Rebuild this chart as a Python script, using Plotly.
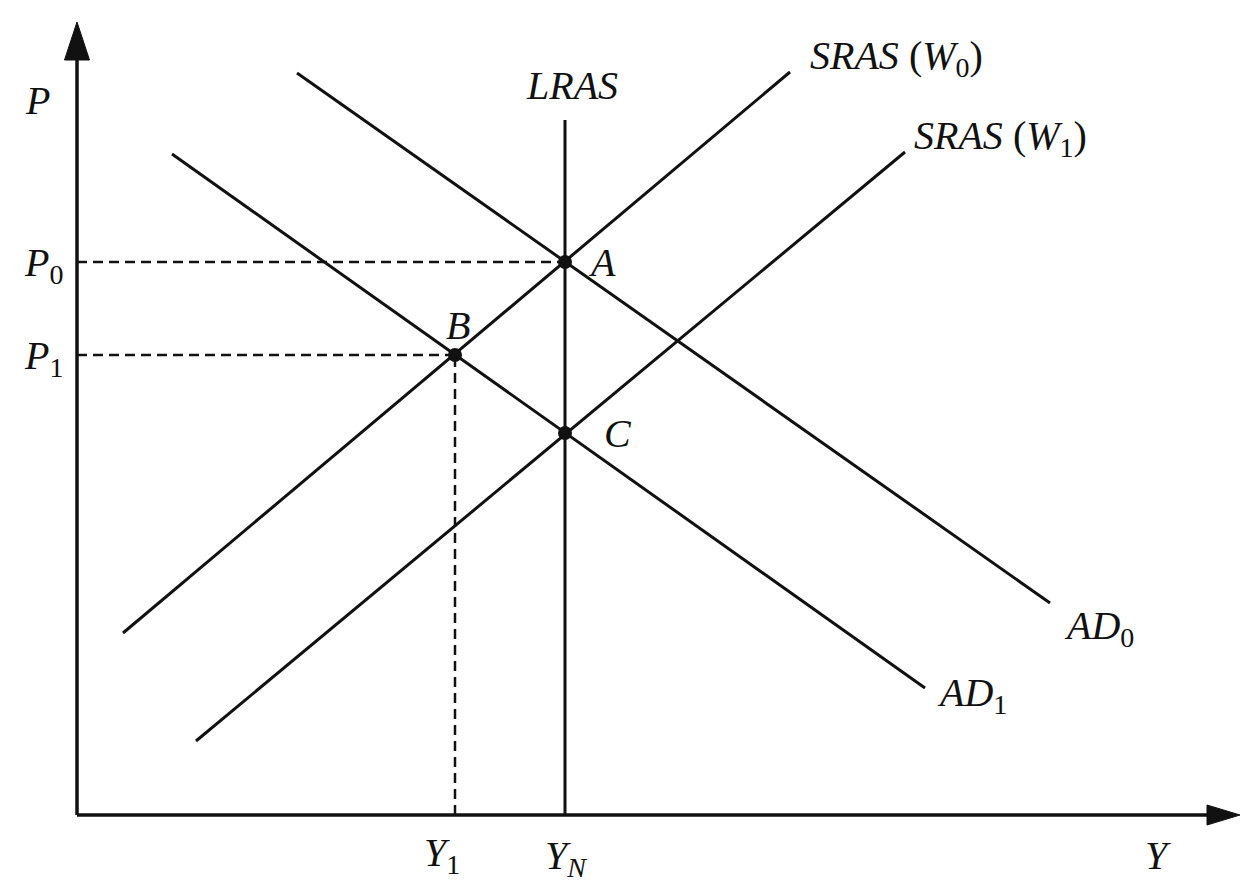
import plotly.graph_objects as go

# ---- data (model units: origin at the axes' corner) ----
ad0_x = [220, 973]
ad0_y = [742, 212]
ad1_x = [95, 848]
ad1_y = [661, 127]
sras0_x = [46, 713]
sras0_y = [182, 743]
sras1_x = [119, 828]
sras1_y = [74, 663]
lras_x = [488, 488]
lras_y = [0, 695]

eq_names = ["A", "B", "C"]
eq_x = [488, 378, 488]
eq_y = [553, 460, 382]

p0_level = 553
p1_level = 460
y1_level = 378
yn_level = 488

axis_y_top = 793
axis_x_right = 1163

BLACK = "#111111"
FONT = dict(family="Liberation Serif, Times New Roman, serif", size=40, color=BLACK)

fig = go.Figure()

def line(x, y, dash="solid", width=3):
    fig.add_trace(go.Scatter(x=x, y=y, mode="lines",
                             line=dict(color=BLACK, width=width, dash=dash),
                             hoverinfo="skip", showlegend=False))

# axes
line([0, 0], [0, axis_y_top - 35], width=3.5)
line([0, axis_x_right - 30], [0, 0], width=3.5)
fig.add_trace(go.Scatter(x=[-12.5, 0, 12.5, -12.5], y=[axis_y_top - 38, axis_y_top, axis_y_top - 38, axis_y_top - 38],
                         mode="lines", fill="toself", fillcolor=BLACK, line=dict(color=BLACK, width=1),
                         hoverinfo="skip", showlegend=False))
fig.add_trace(go.Scatter(x=[axis_x_right - 33, axis_x_right, axis_x_right - 33, axis_x_right - 33], y=[-10, 0, 10, -10],
                         mode="lines", fill="toself", fillcolor=BLACK, line=dict(color=BLACK, width=1),
                         hoverinfo="skip", showlegend=False))

# dashed guides
dash = "10px,6px"
line([0, eq_x[0]], [p0_level, p0_level], dash=dash, width=2.5)
line([0, eq_x[1]], [p1_level, p1_level], dash=dash, width=2.5)
line([y1_level, y1_level], [0, p1_level], dash=dash, width=2.5)

# curves
line(ad0_x, ad0_y)
line(ad1_x, ad1_y)
line(sras0_x, sras0_y)
line(sras1_x, sras1_y)
line(lras_x, lras_y)

# equilibrium points
fig.add_trace(go.Scatter(x=eq_x, y=eq_y, mode="markers",
                         marker=dict(color=BLACK, size=14),
                         hoverinfo="skip", showlegend=False))

def label(x, y, text, xanchor="center", yanchor="middle"):
    fig.add_annotation(x=x, y=y, text=text, showarrow=False, font=FONT,
                       xanchor=xanchor, yanchor=yanchor)

label(-40, 715, "<i>P</i>")
label(-12, 550, "<i>P</i><sub>0</sub>", xanchor="right")
label(-12, 457, "<i>P</i><sub>1</sub>", xanchor="right")
label(495, 730, "<i>LRAS</i>")
label(731, 757, "<i>SRAS</i> (<i>W</i><sub>0</sub>)", xanchor="left")
label(835, 677, "<i>SRAS</i> (<i>W</i><sub>1</sub>)", xanchor="left")
label(525, 553, "<i>A</i>")
label(381, 490, "<i>B</i>")
label(541, 382, "<i>C</i>")
label(985, 187, "<i>AD</i><sub>0</sub>", xanchor="left")
label(858, 120, "<i>AD</i><sub>1</sub>", xanchor="left")
label(365, -40, "<i>Y</i><sub>1</sub>")
label(489, -43, "<i>Y</i><sub><i>N</i></sub>")
label(1081, -40, "<i>Y</i>")

# the page adds an 8px body margin, so the ranges are shifted by 8px to compensate
fig.update_layout(
    width=1258, height=890,
    margin=dict(l=0, r=0, t=0, b=0),
    paper_bgcolor="white", plot_bgcolor="white",
    xaxis=dict(range=[-69, 1189], visible=False, fixedrange=True),
    yaxis=dict(range=[-83, 807], visible=False, fixedrange=True),
    showlegend=False,
)

fig.write_html("out.html")
